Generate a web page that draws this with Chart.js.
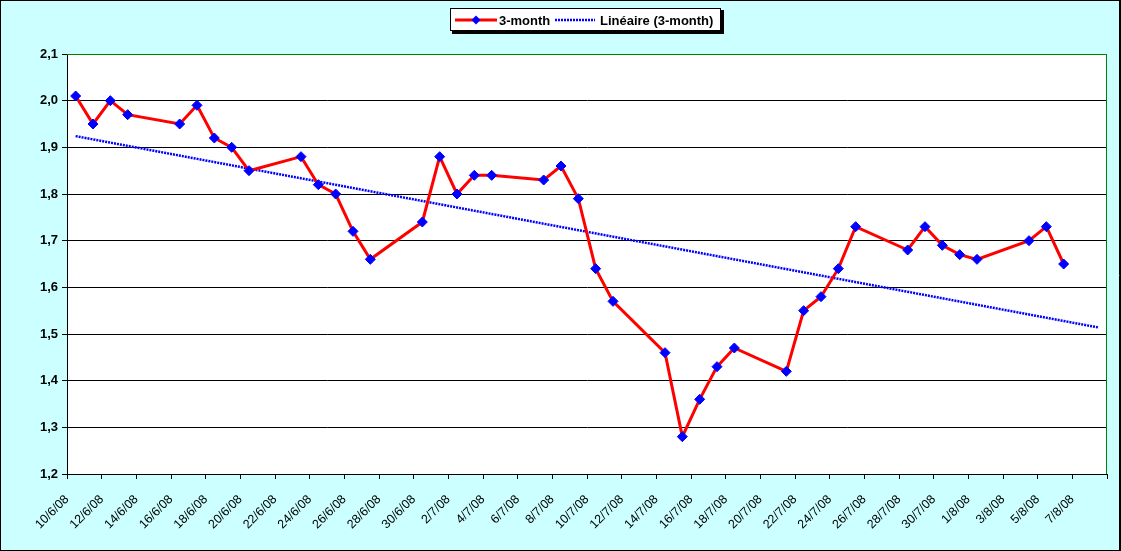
<!DOCTYPE html>
<html>
<head>
<meta charset="utf-8">
<script src="https://cdn.jsdelivr.net/npm/chart.js@4.4.1/dist/chart.umd.min.js"></script>
<style>
html, body { margin: 0; padding: 0; background: #ccffff; }
canvas { display: block; }
</style>
</head>
<body>
<canvas id="grafico" width="1121" height="551"></canvas>
<script>
// datas das cotações (d/m/aa) e valores da série 3-month
const datas = [
  "10/6/08", "11/6/08", "12/6/08", "13/6/08",
  "16/6/08", "17/6/08", "18/6/08", "19/6/08", "20/6/08",
  "23/6/08", "24/6/08", "25/6/08", "26/6/08", "27/6/08",
  "30/6/08", "1/7/08", "2/7/08", "3/7/08", "4/7/08",
  "7/7/08", "8/7/08", "9/7/08", "10/7/08", "11/7/08",
  "14/7/08", "15/7/08", "16/7/08", "17/7/08", "18/7/08",
  "21/7/08", "22/7/08", "23/7/08", "24/7/08", "25/7/08",
  "28/7/08", "29/7/08", "30/7/08", "31/7/08", "1/8/08",
  "4/8/08", "5/8/08", "6/8/08"
];
const valores3m = [
  2.01, 1.95, 2.00, 1.97,
  1.95, 1.99, 1.92, 1.90, 1.85,
  1.88, 1.82, 1.80, 1.72, 1.66,
  1.74, 1.88, 1.80, 1.84, 1.84,
  1.83, 1.86, 1.79, 1.64, 1.57,
  1.46, 1.28, 1.36, 1.43, 1.47,
  1.42, 1.55, 1.58, 1.64, 1.73,
  1.68, 1.73, 1.69, 1.67, 1.66,
  1.70, 1.73, 1.65
];

// linha de tendência (pontas)
const tendenciaDatas = ["10/6/08", "8/8/08"];
const tendenciaValores = [1.924, 1.514];

// rótulos do eixo X (a cada 2 dias)
const rotulosX = [
  "10/6/08", "12/6/08", "14/6/08", "16/6/08", "18/6/08", "20/6/08",
  "22/6/08", "24/6/08", "26/6/08", "28/6/08", "30/6/08", "2/7/08",
  "4/7/08", "6/7/08", "8/7/08", "10/7/08", "12/7/08", "14/7/08",
  "16/7/08", "18/7/08", "20/7/08", "22/7/08", "24/7/08", "26/7/08",
  "28/7/08", "30/7/08", "1/8/08", "3/8/08", "5/8/08", "7/8/08"
];
const diasNoEixo = 60; // 10/6/08 até 8/8/08

// converte "d/m/aa" em número de dias desde o primeiro rótulo (centro do dia)
function diaDoEixo(texto) {
  const p = texto.split("/").map(Number);
  const b = rotulosX[0].split("/").map(Number);
  const t = Date.UTC(2000 + p[2], p[1] - 1, p[0]);
  const t0 = Date.UTC(2000 + b[2], b[1] - 1, b[0]);
  return (t - t0) / 86400000 + 0.5;
}

Chart.defaults.font.family = "'Liberation Sans', Arial, sans-serif";
Chart.defaults.color = "#000";

// desenha fundo, bordas e a legenda no estilo do Excel
const estiloExcel = {
  id: "estiloExcel",
  beforeDraw(chart) {
    const ctx = chart.ctx;
    const a = chart.chartArea;
    ctx.save();
    ctx.fillStyle = "#ccffff";
    ctx.fillRect(0, 0, chart.width, chart.height);
    ctx.fillStyle = "#ffffff";
    ctx.fillRect(a.left, a.top, a.right - a.left, a.bottom - a.top);
    ctx.restore();
  },
  afterDraw(chart) {
    const ctx = chart.ctx;
    const a = chart.chartArea;
    ctx.save();
    // borda verde em cima e à direita
    ctx.strokeStyle = "#008000";
    ctx.lineWidth = 1;
    ctx.beginPath();
    ctx.moveTo(a.left, a.top + 0.5);
    ctx.lineTo(a.right - 0.5, a.top + 0.5);
    ctx.lineTo(a.right - 0.5, a.bottom);
    ctx.stroke();

    // moldura do gráfico
    ctx.strokeStyle = "#000";
    ctx.strokeRect(0.5, 0.5, chart.width - 1, chart.height - 1);
    ctx.beginPath();
    ctx.moveTo(chart.width - 1.5, 0);
    ctx.lineTo(chart.width - 1.5, chart.height);
    ctx.stroke();

    // legenda
    const bx = 450, by = 8, bw = 271, bh = 23;
    ctx.fillStyle = "#000";
    ctx.fillRect(bx + 2, by + 2, bw + 1, bh + 1);
    ctx.fillStyle = "#fff";
    ctx.fillRect(bx, by, bw, bh);
    ctx.strokeRect(bx + 0.5, by + 0.5, bw - 1, bh - 1);

    const ds = chart.data.datasets;
    const cy = by + 12;
    ctx.font = "bold 13px 'Liberation Sans', Arial, sans-serif";
    ctx.textBaseline = "middle";

    // amostra série 3-month
    ctx.strokeStyle = ds[0].borderColor;
    ctx.lineWidth = 3;
    ctx.beginPath();
    ctx.moveTo(455, cy);
    ctx.lineTo(497, cy);
    ctx.stroke();
    ctx.fillStyle = ds[0].pointBackgroundColor;
    ctx.beginPath();
    ctx.moveTo(476 - 4.5, cy);
    ctx.lineTo(476, cy - 4.5);
    ctx.lineTo(476 + 4.5, cy);
    ctx.lineTo(476, cy + 4.5);
    ctx.closePath();
    ctx.fill();
    ctx.fillStyle = "#000";
    ctx.fillText(ds[0].label, 499, cy + 1);

    // amostra tendência
    ctx.strokeStyle = ds[1].borderColor;
    ctx.lineWidth = ds[1].borderWidth;
    ctx.setLineDash(ds[1].borderDash);
    ctx.beginPath();
    ctx.moveTo(555, cy);
    ctx.lineTo(595, cy);
    ctx.stroke();
    ctx.setLineDash([]);
    ctx.fillStyle = "#000";
    ctx.fillText(ds[1].label, 600, cy + 1);
    ctx.restore();
  }
};

const ctx = document.getElementById("grafico").getContext("2d");

const grafico = new Chart(ctx, {
  type: "line",
  data: {
    datasets: [
      {
        label: "3-month",
        data: datas.map((d, i) => ({ x: diaDoEixo(d), y: valores3m[i] })),
        borderColor: "#ff0000",
        borderWidth: 3,
        pointStyle: "rectRot",
        pointRadius: 5,
        pointBackgroundColor: "#0000ff",
        pointBorderColor: "#0000ff",
        pointBorderWidth: 1,
        tension: 0,
        order: 1
      },
      {
        label: "Linéaire (3-month)",
        data: tendenciaDatas.map((d, i) => ({ x: diaDoEixo(d), y: tendenciaValores[i] })),
        borderColor: "#0000ff",
        borderWidth: 2.5,
        borderDash: [2, 1],
        pointRadius: 0,
        tension: 0,
        order: 2
      }
    ]
  },
  options: {
    responsive: false,
    animation: false,
    layout: { padding: { top: 54, right: 14, bottom: 0, left: 0 } },
    plugins: {
      legend: { display: false },
      tooltip: { enabled: false }
    },
    scales: {
      x: {
        type: "linear",
        min: 0,
        max: diasNoEixo,
        afterFit: s => {
          s.height = 77;
          s.paddingLeft = 0;
          s.paddingRight = 0;
        },
        ticks: {
          stepSize: 2,
          autoSkip: false,
          minRotation: 45,
          maxRotation: 45,
          padding: 13,
          font: { size: 12.5 },
          callback: v => rotulosX[v / 2] || ""
        },
        grid: {
          drawOnChartArea: false,
          tickLength: 5,
          color: "#000"
        },
        border: { color: "#000", width: 1 }
      },
      y: {
        min: 1.2,
        max: 2.1,
        afterFit: s => { s.width = 67; },
        ticks: {
          stepSize: 0.1,
          padding: 4,
          font: { size: 13, weight: "bold" },
          callback: v => v.toFixed(1).replace(".", ",")
        },
        grid: {
          color: c => (c.tick && Math.abs(c.tick.value - 2.1) < 1e-6) ? "#008000" : "#000",
          tickColor: "#000",
          tickLength: 5,
          lineWidth: 1
        },
        border: { color: "#000", width: 1 }
      }
    }
  },
  plugins: [estiloExcel]
});
</script>
</body>
</html>
